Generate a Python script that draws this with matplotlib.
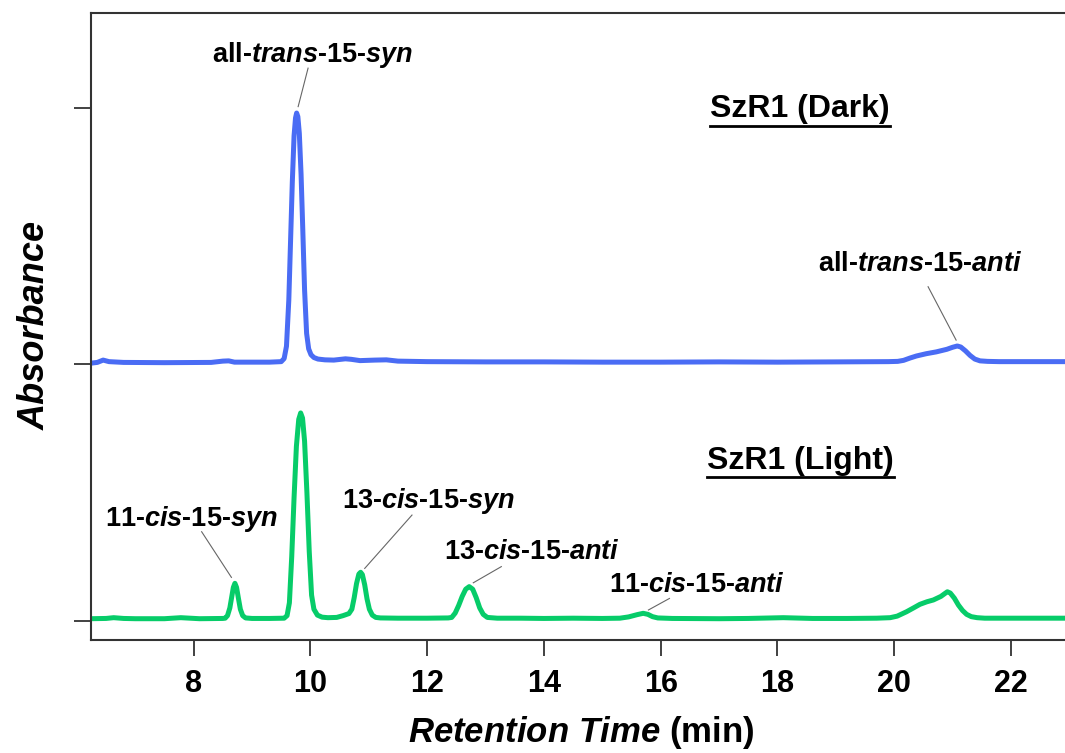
import matplotlib
matplotlib.use('Agg')
import matplotlib.pyplot as plt
from matplotlib.lines import Line2D

plt.rcParams['font.family'] = ['Liberation Sans', 'DejaVu Sans']
plt.rcParams['font.weight'] = 'bold'
plt.rcParams['mathtext.fontset'] = 'custom'
plt.rcParams['mathtext.rm'] = 'Liberation Sans:bold'
plt.rcParams['mathtext.bf'] = 'Liberation Sans:bold'
plt.rcParams['mathtext.it'] = 'Liberation Sans:italic:bold'

# dark trace (offset by 1 unit)
dark_time = [6.24, 6.35, 6.45, 6.55, 6.8, 7.5, 8.3, 8.5, 8.6, 8.7, 9.3, 9.50, 9.55, 9.59,
             9.63, 9.66, 9.69, 9.72, 9.745, 9.764, 9.785, 9.81, 9.84, 9.87, 9.90, 9.935,
             9.97, 10.01, 10.06, 10.13, 10.25, 10.4, 10.6, 10.7, 10.85, 11.1, 11.3, 11.5,
             12.0, 13.0, 14.0, 15.0, 16.0, 17.0, 18.0, 19.0, 19.9, 20.06, 20.16, 20.27,
             20.38, 20.55, 20.72, 20.9, 21.0, 21.08, 21.14, 21.22, 21.30, 21.38, 21.47,
             21.6, 21.8, 22.3, 22.93]
dark_abs = [1.004, 1.007, 1.016, 1.010, 1.007, 1.006, 1.007, 1.012, 1.013, 1.008, 1.008,
            1.010, 1.022, 1.07, 1.25, 1.48, 1.71, 1.89, 1.96, 1.979, 1.965, 1.90, 1.74,
            1.52, 1.29, 1.12, 1.06, 1.037, 1.026, 1.020, 1.017, 1.016, 1.021, 1.019, 1.014,
            1.016, 1.017, 1.012, 1.010, 1.009, 1.009, 1.008, 1.008, 1.009, 1.008, 1.009,
            1.010, 1.011, 1.015, 1.024, 1.032, 1.041, 1.048, 1.058, 1.066, 1.071, 1.067,
            1.052, 1.034, 1.020, 1.013, 1.011, 1.010, 1.010, 1.010]

# light trace
light_time = [6.24, 6.5, 6.63, 6.8, 7.0, 7.5, 7.78, 8.1, 8.5, 8.54, 8.58, 8.62, 8.65, 8.68,
              8.707, 8.735, 8.765, 8.80, 8.84, 8.89, 9.0, 9.3, 9.55, 9.60, 9.64, 9.68, 9.72,
              9.76, 9.80, 9.833, 9.865, 9.90, 9.94, 9.98, 10.02, 10.06, 10.12, 10.2, 10.3,
              10.45, 10.56, 10.66, 10.71, 10.75, 10.79, 10.83, 10.86, 10.89, 10.93, 10.97,
              11.01, 11.06, 11.12, 11.2, 11.5, 12.0, 12.36, 12.42, 12.48, 12.54, 12.60, 12.66,
              12.72, 12.78, 12.84, 12.90, 12.96, 13.03, 13.2, 13.6, 14.0, 14.5, 15.0, 15.3,
              15.45, 15.6, 15.7, 15.78, 15.86, 15.95, 16.2, 17.0, 17.5, 18.1, 18.6, 19.2,
              19.7, 19.93, 20.05, 20.21, 20.33, 20.44, 20.56, 20.67, 20.8, 20.86, 20.91,
              20.96, 21.03, 21.10, 21.17, 21.24, 21.32, 21.42, 21.55, 21.8, 22.2, 22.6, 22.93]
light_abs = [0.008, 0.009, 0.012, 0.009, 0.008, 0.008, 0.012, 0.008, 0.009, 0.010, 0.02,
             0.05, 0.09, 0.13, 0.146, 0.13, 0.09, 0.045, 0.02, 0.011, 0.009, 0.009, 0.010,
             0.02, 0.07, 0.25, 0.48, 0.68, 0.785, 0.81, 0.79, 0.70, 0.50, 0.27, 0.10, 0.045,
             0.022, 0.014, 0.012, 0.013, 0.020, 0.028, 0.045, 0.09, 0.145, 0.182, 0.189, 0.18,
             0.14, 0.085, 0.045, 0.022, 0.013, 0.011, 0.010, 0.010, 0.011, 0.013, 0.03, 0.06,
             0.095, 0.123, 0.133, 0.123, 0.09, 0.05, 0.025, 0.013, 0.010, 0.010, 0.009, 0.010,
             0.009, 0.010, 0.015, 0.024, 0.029, 0.025, 0.016, 0.011, 0.009, 0.008, 0.009,
             0.012, 0.009, 0.009, 0.010, 0.012, 0.018, 0.035, 0.050, 0.064, 0.074, 0.081,
             0.095, 0.105, 0.113, 0.108, 0.088, 0.061, 0.040, 0.025, 0.016, 0.012, 0.010,
             0.010, 0.010, 0.010, 0.010]

x_ticks = [8, 10, 12, 14, 16, 18, 20, 22]

# peak labels: text, text anchor (x, baseline y), leader line start and end
peak_labels = [r'all-$\mathit{trans}$-15-$\mathit{syn}$',
               r'all-$\mathit{trans}$-15-$\mathit{anti}$',
               r'11-$\mathit{cis}$-15-$\mathit{syn}$',
               r'13-$\mathit{cis}$-15-$\mathit{syn}$',
               r'13-$\mathit{cis}$-15-$\mathit{anti}$',
               r'11-$\mathit{cis}$-15-$\mathit{anti}$']
label_x = [8.31, 18.70, 6.48, 10.54, 12.28, 15.11]
label_y = [2.179, 1.363, 0.369, 0.438, 0.239, 0.113]
leader_from = [(9.96, 2.154), (20.58, 1.302), (8.137, 0.347), (11.74, 0.412), (13.27, 0.211), (16.15, 0.087)]
leader_to = [(9.79, 2.004), (21.06, 1.094), (8.647, 0.169), (10.93, 0.204), (12.79, 0.148), (15.79, 0.042)]

sample_titles = ['SzR1 (Dark)', 'SzR1 (Light)']
title_x = [16.844, 16.79]
title_y = [1.962, 0.592]

fig = plt.figure(figsize=(10.65, 7.53), dpi=100)
ax = fig.add_axes([0.0854, 0.15, 0.9146, 0.8331])

ax.plot(dark_time, dark_abs, color='#4a6cf4', lw=3.6, solid_joinstyle='round', solid_capstyle='round')
ax.plot(light_time, light_abs, color='#07cc69', lw=3.6, solid_joinstyle='round', solid_capstyle='round')

ax.set_xlim(6.241, 22.925)
ax.set_ylim(-0.0752, 2.370)

for lbl, tx, ty, p0, p1 in zip(peak_labels, label_x, label_y, leader_from, leader_to):
    ax.text(tx, ty, lbl, fontsize=19.5, fontweight='bold', ha='left', va='baseline')
    ax.plot([p0[0], p1[0]], [p0[1], p1[1]], color='0.4', lw=0.8)

titles = []
for t, tx, ty in zip(sample_titles, title_x, title_y):
    titles.append(ax.text(tx, ty, t, fontsize=23, fontweight='bold', ha='left', va='baseline'))

for side in ['left', 'bottom', 'top', 'right']:
    ax.spines[side].set_color('#333333')
    ax.spines[side].set_linewidth(1.5)
ax.spines['right'].set_visible(False)

ax.set_xticks(x_ticks)
ax.set_xticklabels([str(v) for v in x_ticks])
ax.set_yticks([0, 1, 2])
ax.set_yticklabels([])
ax.tick_params(axis='x', length=11.5, width=1.3, pad=9, labelsize=22, color='#333333')
ax.tick_params(axis='y', length=12.2, width=1.3, color='#333333')
for lab in ax.get_xticklabels():
    lab.set_fontweight('bold')

ax.set_xlabel(r'$\mathit{Retention\ Time}$ (min)', fontsize=25, fontweight='bold')
ax.xaxis.set_label_coords(0.5036, -0.147)
ax.xaxis.label.set_va('center')
ax.set_ylabel('Absorbance', fontsize=26, fontweight='bold', fontstyle='italic')
ax.yaxis.set_label_coords(-0.0575, 0.502)
ax.yaxis.label.set_va('center')

# underline the sample titles
fig.canvas.draw()
renderer = fig.canvas.get_renderer()
for t in titles:
    bb = t.get_window_extent(renderer).transformed(fig.transFigure.inverted())
    fig.add_artist(Line2D([bb.x0, bb.x1], [bb.y0 - 0.002, bb.y0 - 0.002],
                          transform=fig.transFigure, color='black', lw=2))

fig.savefig('out.png', dpi=100)
